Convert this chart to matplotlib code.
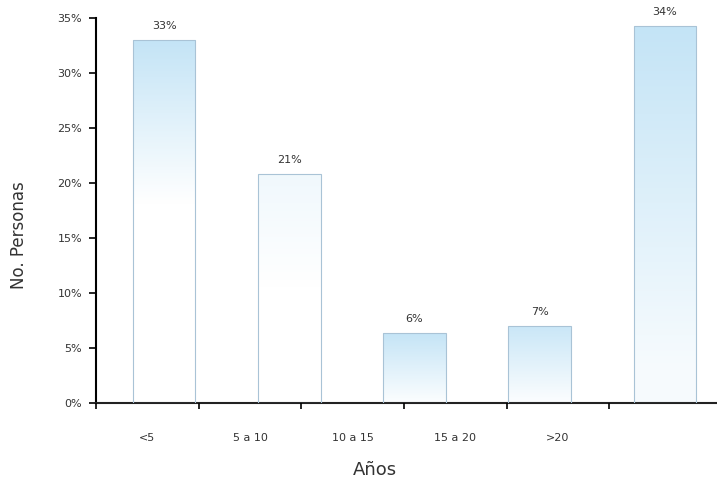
import numpy as np
import matplotlib
matplotlib.use('Agg')
import matplotlib.pyplot as plt
from matplotlib.colors import LinearSegmentedColormap

# datos
categorias = ['<5', '5 a 10', '10 a 15', '15 a 20', '>20']
porcentajes = [33.0, 20.8, 6.4, 7.0, 34.3]
yticks = [0, 5, 10, 15, 20, 25, 30, 35]

# degradado de cada barra: (intensidad arriba, intensidad abajo, fraccion donde termina)
degradados = [(1.0, 0.0, 0.45), (0.25, 0.0, 0.5), (1.0, 0.05, 1.0),
              (0.9, 0.05, 1.0), (1.0, 0.15, 0.9)]

texto = '#333333'
cmap = LinearSegmentedColormap.from_list('azul', ['#ffffff', '#c4e4f6'])

fig = plt.figure(figsize=(7.17, 4.86), dpi=100)
ax = fig.add_axes([0.134, 0.171, 0.866, 0.792])

x = np.arange(len(categorias))
bars = ax.bar(x, porcentajes, width=0.5, facecolor='none',
              edgecolor='#a9c3d6', linewidth=0.8, zorder=3)

for b, (arriba, abajo, frac) in zip(bars, degradados):
    n = 200
    pos = np.linspace(1, 0, n)  # 1 arriba, 0 abajo
    t = np.clip((pos - (1 - frac)) / frac, 0, 1)
    grad = (abajo + (arriba - abajo) * t)[:, None]
    x0 = b.get_x()
    h = b.get_height()
    im = ax.imshow(grad, extent=[x0, x0 + b.get_width(), 0, h], aspect='auto',
                   cmap=cmap, vmin=0, vmax=1, zorder=2, interpolation='bilinear')
    im.set_clip_path(b)
    ax.text(b.get_x() + b.get_width() / 2, h + 0.8, '{:.0f}%'.format(h),
            ha='center', va='bottom', fontsize=8, color=texto)

ax.set_xlim(-0.543, 4.417)
ax.set_ylim(0, 35)
ax.set_yticks(yticks)
ax.set_yticklabels(['{}%'.format(v) for v in yticks], fontsize=8, color=texto)
ax.tick_params(axis='y', length=5, width=1.2, direction='out', pad=5)
ax.set_xticks([])
for s in ['top', 'right']:
    ax.spines[s].set_visible(False)
ax.spines['left'].set_linewidth(1.5)
ax.spines['bottom'].set_linewidth(1.5)
ax.spines['bottom'].set_color('#222222')
ax.set_ylabel('No. Personas', fontsize=12, color=texto)
ax.yaxis.set_label_coords(-0.11, 0.436)

# eje de categorias (espaciado distinto al de las barras, como en el original)
cat = ax.twiny()
cat.set_xlim(-0.5, 5.55)
cat.xaxis.set_ticks_position('bottom')
cat.xaxis.set_label_position('bottom')
cat.set_xticks(x)
cat.set_xticklabels(categorias, fontsize=8, color=texto)
cat.set_xticks(np.arange(-0.5, 5.5, 1.0), minor=True)
cat.tick_params(axis='x', which='major', length=0, pad=22)
cat.tick_params(axis='x', which='minor', length=4, width=1.2, direction='out')
for s in cat.spines.values():
    s.set_visible(False)
cat.set_xlabel('Años', fontsize=13, color=texto)
cat.xaxis.set_label_coords(0.449, -0.15)

fig.savefig('out.png', dpi=100)
